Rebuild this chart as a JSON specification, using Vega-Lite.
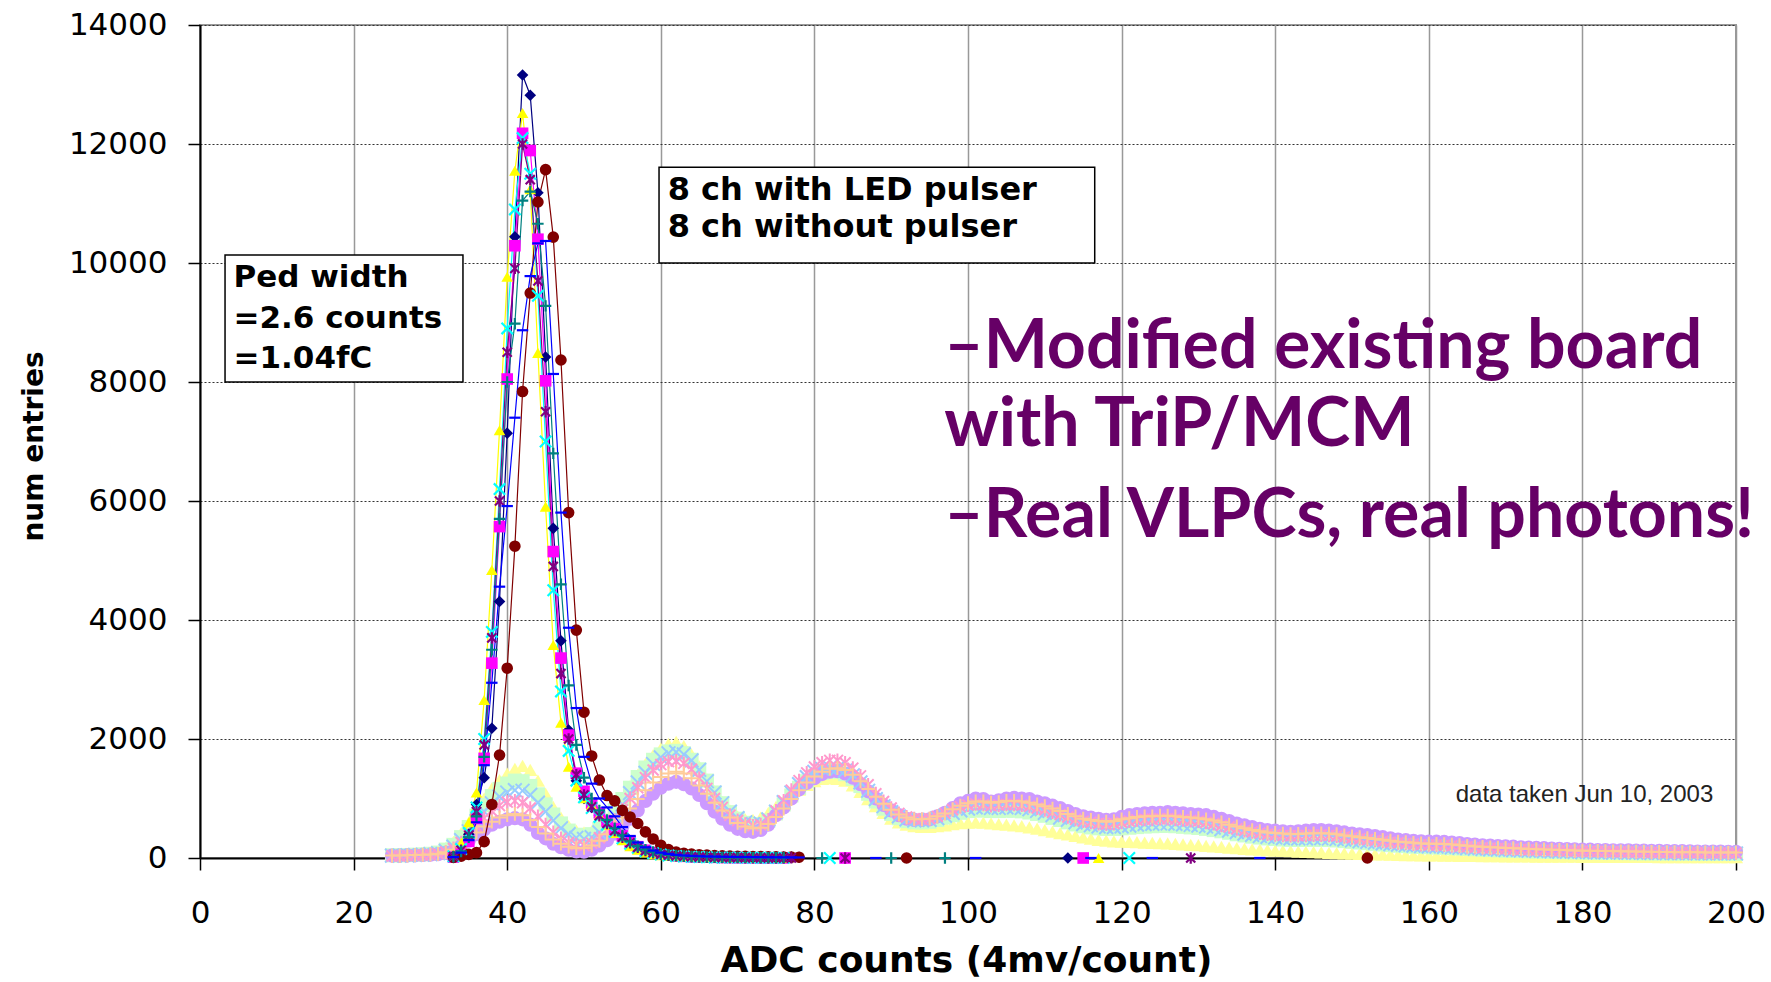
{
"$schema":"https://vega.github.io/schema/vega-lite/v6.json",
"width":1536,"height":833,
"autosize":{"type":"none"},
"padding":{"left":200,"top":25,"right":35,"bottom":124},
"background":"white",
"config":{"view":{"stroke":"#999999","strokeWidth":2}},
"datasets":{
"led":[
{"s":"L1","x":25,"y":50},{"s":"L1","x":26,"y":50},{"s":"L1","x":27,"y":55},{"s":"L1","x":28,"y":60},{"s":"L1","x":29,"y":70},{"s":"L1","x":30,"y":80},{"s":"L1","x":31,"y":110},{"s":"L1","x":32,"y":170},{"s":"L1","x":33,"y":270},{"s":"L1","x":34,"y":420},
{"s":"L1","x":35,"y":600},{"s":"L1","x":36,"y":800},{"s":"L1","x":37,"y":1000},{"s":"L1","x":38,"y":1170},{"s":"L1","x":39,"y":1310},{"s":"L1","x":40,"y":1420},{"s":"L1","x":41,"y":1500},{"s":"L1","x":42,"y":1550},{"s":"L1","x":43,"y":1480},{"s":"L1","x":44,"y":1300},
{"s":"L1","x":45,"y":1080},{"s":"L1","x":46,"y":860},{"s":"L1","x":47,"y":680},{"s":"L1","x":48,"y":540},{"s":"L1","x":49,"y":460},{"s":"L1","x":50,"y":430},{"s":"L1","x":51,"y":450},{"s":"L1","x":52,"y":530},{"s":"L1","x":53,"y":660},{"s":"L1","x":54,"y":820},
{"s":"L1","x":55,"y":1010},{"s":"L1","x":56,"y":1210},{"s":"L1","x":57,"y":1400},{"s":"L1","x":58,"y":1580},{"s":"L1","x":59,"y":1730},{"s":"L1","x":60,"y":1840},{"s":"L1","x":61,"y":1920},{"s":"L1","x":62,"y":1950},{"s":"L1","x":63,"y":1880},{"s":"L1","x":64,"y":1740},
{"s":"L1","x":65,"y":1540},{"s":"L1","x":66,"y":1320},{"s":"L1","x":67,"y":1120},{"s":"L1","x":68,"y":940},{"s":"L1","x":69,"y":800},{"s":"L1","x":70,"y":700},{"s":"L1","x":71,"y":650},{"s":"L1","x":72,"y":640},{"s":"L1","x":73,"y":680},{"s":"L1","x":74,"y":760},
{"s":"L1","x":75,"y":860},{"s":"L1","x":76,"y":960},{"s":"L1","x":77,"y":1060},{"s":"L1","x":78,"y":1150},{"s":"L1","x":79,"y":1230},{"s":"L1","x":80,"y":1290},{"s":"L1","x":81,"y":1330},{"s":"L1","x":82,"y":1340},{"s":"L1","x":83,"y":1330},{"s":"L1","x":84,"y":1300},
{"s":"L1","x":85,"y":1220},{"s":"L1","x":86,"y":1110},{"s":"L1","x":87,"y":990},{"s":"L1","x":88,"y":870},{"s":"L1","x":89,"y":760},{"s":"L1","x":90,"y":660},{"s":"L1","x":91,"y":600},{"s":"L1","x":92,"y":560},{"s":"L1","x":93,"y":535},{"s":"L1","x":94,"y":525},
{"s":"L1","x":95,"y":525},{"s":"L1","x":96,"y":535},{"s":"L1","x":97,"y":550},{"s":"L1","x":98,"y":570},{"s":"L1","x":99,"y":585},{"s":"L1","x":100,"y":595},{"s":"L1","x":101,"y":600},{"s":"L1","x":102,"y":595},{"s":"L1","x":103,"y":580},{"s":"L1","x":104,"y":570},
{"s":"L1","x":105,"y":560},{"s":"L1","x":106,"y":550},{"s":"L1","x":107,"y":535},{"s":"L1","x":108,"y":515},{"s":"L1","x":109,"y":495},{"s":"L1","x":110,"y":470},{"s":"L1","x":111,"y":445},{"s":"L1","x":112,"y":420},{"s":"L1","x":113,"y":395},{"s":"L1","x":114,"y":370},
{"s":"L1","x":115,"y":345},{"s":"L1","x":116,"y":325},{"s":"L1","x":117,"y":305},{"s":"L1","x":118,"y":290},{"s":"L1","x":119,"y":280},{"s":"L1","x":120,"y":275},{"s":"L1","x":121,"y":270},{"s":"L1","x":122,"y":265},{"s":"L1","x":123,"y":260},{"s":"L1","x":124,"y":255},
{"s":"L1","x":125,"y":250},{"s":"L1","x":126,"y":245},{"s":"L1","x":127,"y":238},{"s":"L1","x":128,"y":230},{"s":"L1","x":129,"y":222},{"s":"L1","x":130,"y":215},{"s":"L1","x":131,"y":205},{"s":"L1","x":132,"y":195},{"s":"L1","x":133,"y":185},{"s":"L1","x":134,"y":175},
{"s":"L1","x":135,"y":165},{"s":"L1","x":136,"y":155},{"s":"L1","x":137,"y":147},{"s":"L1","x":138,"y":140},{"s":"L1","x":139,"y":133},{"s":"L1","x":140,"y":126},{"s":"L1","x":141,"y":120},{"s":"L1","x":142,"y":114},{"s":"L1","x":143,"y":108},{"s":"L1","x":144,"y":103},
{"s":"L1","x":145,"y":98},{"s":"L1","x":146,"y":93},{"s":"L1","x":147,"y":88},{"s":"L1","x":148,"y":83},{"s":"L1","x":149,"y":78},{"s":"L1","x":150,"y":74},{"s":"L1","x":151,"y":70},{"s":"L1","x":152,"y":66},{"s":"L1","x":153,"y":62},{"s":"L1","x":154,"y":59},
{"s":"L1","x":155,"y":56},{"s":"L1","x":156,"y":53},{"s":"L1","x":157,"y":50},{"s":"L1","x":158,"y":48},{"s":"L1","x":159,"y":46},{"s":"L1","x":160,"y":44},{"s":"L1","x":161,"y":42},{"s":"L1","x":162,"y":40},{"s":"L1","x":163,"y":38},{"s":"L1","x":164,"y":36},
{"s":"L1","x":165,"y":35},{"s":"L1","x":166,"y":34},{"s":"L1","x":167,"y":32},{"s":"L1","x":168,"y":31},{"s":"L1","x":169,"y":30},{"s":"L1","x":170,"y":29},{"s":"L1","x":171,"y":28},{"s":"L1","x":172,"y":27},{"s":"L1","x":173,"y":26},{"s":"L1","x":174,"y":25},
{"s":"L1","x":175,"y":24},{"s":"L1","x":176,"y":23},{"s":"L1","x":177,"y":22},{"s":"L1","x":178,"y":22},{"s":"L1","x":179,"y":21},{"s":"L1","x":180,"y":20},{"s":"L1","x":181,"y":20},{"s":"L1","x":182,"y":19},{"s":"L1","x":183,"y":19},{"s":"L1","x":184,"y":18},
{"s":"L1","x":185,"y":18},{"s":"L1","x":186,"y":18},{"s":"L1","x":187,"y":17},{"s":"L1","x":188,"y":17},{"s":"L1","x":189,"y":17},{"s":"L1","x":190,"y":16},{"s":"L1","x":191,"y":16},{"s":"L1","x":192,"y":16},{"s":"L1","x":193,"y":15},{"s":"L1","x":194,"y":15},
{"s":"L1","x":195,"y":15},{"s":"L1","x":196,"y":15},{"s":"L1","x":197,"y":14},{"s":"L1","x":198,"y":14},{"s":"L1","x":199,"y":14},{"s":"L1","x":200,"y":14},
{"s":"L2","x":25,"y":45},{"s":"L2","x":26,"y":45},{"s":"L2","x":27,"y":50},{"s":"L2","x":28,"y":55},{"s":"L2","x":29,"y":60},{"s":"L2","x":30,"y":70},{"s":"L2","x":31,"y":90},{"s":"L2","x":32,"y":140},{"s":"L2","x":33,"y":220},{"s":"L2","x":34,"y":350},
{"s":"L2","x":35,"y":520},{"s":"L2","x":36,"y":710},{"s":"L2","x":37,"y":890},{"s":"L2","x":38,"y":1040},{"s":"L2","x":39,"y":1160},{"s":"L2","x":40,"y":1250},{"s":"L2","x":41,"y":1300},{"s":"L2","x":42,"y":1290},{"s":"L2","x":43,"y":1210},{"s":"L2","x":44,"y":1070},
{"s":"L2","x":45,"y":900},{"s":"L2","x":46,"y":730},{"s":"L2","x":47,"y":580},{"s":"L2","x":48,"y":460},{"s":"L2","x":49,"y":390},{"s":"L2","x":50,"y":370},{"s":"L2","x":51,"y":400},{"s":"L2","x":52,"y":490},{"s":"L2","x":53,"y":630},{"s":"L2","x":54,"y":800},
{"s":"L2","x":55,"y":990},{"s":"L2","x":56,"y":1180},{"s":"L2","x":57,"y":1360},{"s":"L2","x":58,"y":1520},{"s":"L2","x":59,"y":1650},{"s":"L2","x":60,"y":1740},{"s":"L2","x":61,"y":1790},{"s":"L2","x":62,"y":1800},{"s":"L2","x":63,"y":1760},{"s":"L2","x":64,"y":1650},
{"s":"L2","x":65,"y":1490},{"s":"L2","x":66,"y":1300},{"s":"L2","x":67,"y":1100},{"s":"L2","x":68,"y":920},{"s":"L2","x":69,"y":770},{"s":"L2","x":70,"y":660},{"s":"L2","x":71,"y":590},{"s":"L2","x":72,"y":560},{"s":"L2","x":73,"y":570},{"s":"L2","x":74,"y":630},
{"s":"L2","x":75,"y":750},{"s":"L2","x":76,"y":900},{"s":"L2","x":77,"y":1050},{"s":"L2","x":78,"y":1180},{"s":"L2","x":79,"y":1290},{"s":"L2","x":80,"y":1380},{"s":"L2","x":81,"y":1430},{"s":"L2","x":82,"y":1460},{"s":"L2","x":83,"y":1450},{"s":"L2","x":84,"y":1410},
{"s":"L2","x":85,"y":1330},{"s":"L2","x":86,"y":1210},{"s":"L2","x":87,"y":1080},{"s":"L2","x":88,"y":950},{"s":"L2","x":89,"y":830},{"s":"L2","x":90,"y":740},{"s":"L2","x":91,"y":670},{"s":"L2","x":92,"y":620},{"s":"L2","x":93,"y":600},{"s":"L2","x":94,"y":600},
{"s":"L2","x":95,"y":610},{"s":"L2","x":96,"y":640},{"s":"L2","x":97,"y":680},{"s":"L2","x":98,"y":720},{"s":"L2","x":99,"y":760},{"s":"L2","x":100,"y":790},{"s":"L2","x":101,"y":800},{"s":"L2","x":102,"y":800},{"s":"L2","x":103,"y":790},{"s":"L2","x":104,"y":790},
{"s":"L2","x":105,"y":795},{"s":"L2","x":106,"y":795},{"s":"L2","x":107,"y":785},{"s":"L2","x":108,"y":765},{"s":"L2","x":109,"y":740},{"s":"L2","x":110,"y":710},{"s":"L2","x":111,"y":675},{"s":"L2","x":112,"y":640},{"s":"L2","x":113,"y":600},{"s":"L2","x":114,"y":565},
{"s":"L2","x":115,"y":535},{"s":"L2","x":116,"y":515},{"s":"L2","x":117,"y":500},{"s":"L2","x":118,"y":490},{"s":"L2","x":119,"y":490},{"s":"L2","x":120,"y":500},{"s":"L2","x":121,"y":510},{"s":"L2","x":122,"y":520},{"s":"L2","x":123,"y":530},{"s":"L2","x":124,"y":535},
{"s":"L2","x":125,"y":540},{"s":"L2","x":126,"y":540},{"s":"L2","x":127,"y":535},{"s":"L2","x":128,"y":525},{"s":"L2","x":129,"y":515},{"s":"L2","x":130,"y":505},{"s":"L2","x":131,"y":490},{"s":"L2","x":132,"y":470},{"s":"L2","x":133,"y":450},{"s":"L2","x":134,"y":425},
{"s":"L2","x":135,"y":400},{"s":"L2","x":136,"y":380},{"s":"L2","x":137,"y":360},{"s":"L2","x":138,"y":345},{"s":"L2","x":139,"y":330},{"s":"L2","x":140,"y":320},{"s":"L2","x":141,"y":312},{"s":"L2","x":142,"y":306},{"s":"L2","x":143,"y":304},{"s":"L2","x":144,"y":305},
{"s":"L2","x":145,"y":307},{"s":"L2","x":146,"y":307},{"s":"L2","x":147,"y":303},{"s":"L2","x":148,"y":296},{"s":"L2","x":149,"y":285},{"s":"L2","x":150,"y":273},{"s":"L2","x":151,"y":261},{"s":"L2","x":152,"y":250},{"s":"L2","x":153,"y":239},{"s":"L2","x":154,"y":228},
{"s":"L2","x":155,"y":217},{"s":"L2","x":156,"y":208},{"s":"L2","x":157,"y":200},{"s":"L2","x":158,"y":192},{"s":"L2","x":159,"y":186},{"s":"L2","x":160,"y":181},{"s":"L2","x":161,"y":178},{"s":"L2","x":162,"y":174},{"s":"L2","x":163,"y":167},{"s":"L2","x":164,"y":160},
{"s":"L2","x":165,"y":153},{"s":"L2","x":166,"y":147},{"s":"L2","x":167,"y":141},{"s":"L2","x":168,"y":135},{"s":"L2","x":169,"y":130},{"s":"L2","x":170,"y":125},{"s":"L2","x":171,"y":121},{"s":"L2","x":172,"y":117},{"s":"L2","x":173,"y":113},{"s":"L2","x":174,"y":110},
{"s":"L2","x":175,"y":106},{"s":"L2","x":176,"y":103},{"s":"L2","x":177,"y":100},{"s":"L2","x":178,"y":98},{"s":"L2","x":179,"y":95},{"s":"L2","x":180,"y":93},{"s":"L2","x":181,"y":91},{"s":"L2","x":182,"y":89},{"s":"L2","x":183,"y":87},{"s":"L2","x":184,"y":86},
{"s":"L2","x":185,"y":84},{"s":"L2","x":186,"y":83},{"s":"L2","x":187,"y":81},{"s":"L2","x":188,"y":80},{"s":"L2","x":189,"y":79},{"s":"L2","x":190,"y":78},{"s":"L2","x":191,"y":77},{"s":"L2","x":192,"y":76},{"s":"L2","x":193,"y":75},{"s":"L2","x":194,"y":74},
{"s":"L2","x":195,"y":73},{"s":"L2","x":196,"y":73},{"s":"L2","x":197,"y":72},{"s":"L2","x":198,"y":72},{"s":"L2","x":199,"y":71},{"s":"L2","x":200,"y":71},
{"s":"L6","x":25,"y":40},{"s":"L6","x":26,"y":40},{"s":"L6","x":27,"y":45},{"s":"L6","x":28,"y":45},{"s":"L6","x":29,"y":50},{"s":"L6","x":30,"y":55},{"s":"L6","x":31,"y":65},{"s":"L6","x":32,"y":85},{"s":"L6","x":33,"y":120},{"s":"L6","x":34,"y":200},
{"s":"L6","x":35,"y":290},{"s":"L6","x":36,"y":400},{"s":"L6","x":37,"y":480},{"s":"L6","x":38,"y":560},{"s":"L6","x":39,"y":610},{"s":"L6","x":40,"y":650},{"s":"L6","x":41,"y":670},{"s":"L6","x":42,"y":650},{"s":"L6","x":43,"y":560},{"s":"L6","x":44,"y":420},
{"s":"L6","x":45,"y":330},{"s":"L6","x":46,"y":240},{"s":"L6","x":47,"y":180},{"s":"L6","x":48,"y":140},{"s":"L6","x":49,"y":110},{"s":"L6","x":50,"y":105},{"s":"L6","x":51,"y":140},{"s":"L6","x":52,"y":210},{"s":"L6","x":53,"y":300},{"s":"L6","x":54,"y":410},
{"s":"L6","x":55,"y":530},{"s":"L6","x":56,"y":660},{"s":"L6","x":57,"y":800},{"s":"L6","x":58,"y":960},{"s":"L6","x":59,"y":1080},{"s":"L6","x":60,"y":1180},{"s":"L6","x":61,"y":1250},{"s":"L6","x":62,"y":1280},{"s":"L6","x":63,"y":1240},{"s":"L6","x":64,"y":1170},
{"s":"L6","x":65,"y":1060},{"s":"L6","x":66,"y":920},{"s":"L6","x":67,"y":780},{"s":"L6","x":68,"y":660},{"s":"L6","x":69,"y":560},{"s":"L6","x":70,"y":490},{"s":"L6","x":71,"y":450},{"s":"L6","x":72,"y":440},{"s":"L6","x":73,"y":470},{"s":"L6","x":74,"y":560},
{"s":"L6","x":75,"y":720},{"s":"L6","x":76,"y":850},{"s":"L6","x":77,"y":1000},{"s":"L6","x":78,"y":1150},{"s":"L6","x":79,"y":1260},{"s":"L6","x":80,"y":1340},{"s":"L6","x":81,"y":1410},{"s":"L6","x":82,"y":1450},{"s":"L6","x":83,"y":1460},{"s":"L6","x":84,"y":1420},
{"s":"L6","x":85,"y":1350},{"s":"L6","x":86,"y":1240},{"s":"L6","x":87,"y":1120},{"s":"L6","x":88,"y":1000},{"s":"L6","x":89,"y":890},{"s":"L6","x":90,"y":800},{"s":"L6","x":91,"y":720},{"s":"L6","x":92,"y":660},{"s":"L6","x":93,"y":640},{"s":"L6","x":94,"y":640},
{"s":"L6","x":95,"y":650},{"s":"L6","x":96,"y":700},{"s":"L6","x":97,"y":760},{"s":"L6","x":98,"y":840},{"s":"L6","x":99,"y":920},{"s":"L6","x":100,"y":960},{"s":"L6","x":101,"y":1000},{"s":"L6","x":102,"y":990},{"s":"L6","x":103,"y":950},{"s":"L6","x":104,"y":970},
{"s":"L6","x":105,"y":1000},{"s":"L6","x":106,"y":1010},{"s":"L6","x":107,"y":1000},{"s":"L6","x":108,"y":990},{"s":"L6","x":109,"y":950},{"s":"L6","x":110,"y":920},{"s":"L6","x":111,"y":880},{"s":"L6","x":112,"y":840},{"s":"L6","x":113,"y":790},{"s":"L6","x":114,"y":740},
{"s":"L6","x":115,"y":700},{"s":"L6","x":116,"y":680},{"s":"L6","x":117,"y":660},{"s":"L6","x":118,"y":640},{"s":"L6","x":119,"y":650},{"s":"L6","x":120,"y":690},{"s":"L6","x":121,"y":720},{"s":"L6","x":122,"y":740},{"s":"L6","x":123,"y":750},{"s":"L6","x":124,"y":760},
{"s":"L6","x":125,"y":760},{"s":"L6","x":126,"y":770},{"s":"L6","x":127,"y":760},{"s":"L6","x":128,"y":750},{"s":"L6","x":129,"y":740},{"s":"L6","x":130,"y":730},{"s":"L6","x":131,"y":720},{"s":"L6","x":132,"y":690},{"s":"L6","x":133,"y":660},{"s":"L6","x":134,"y":620},
{"s":"L6","x":135,"y":580},{"s":"L6","x":136,"y":550},{"s":"L6","x":137,"y":520},{"s":"L6","x":138,"y":490},{"s":"L6","x":139,"y":470},{"s":"L6","x":140,"y":460},{"s":"L6","x":141,"y":450},{"s":"L6","x":142,"y":440},{"s":"L6","x":143,"y":450},{"s":"L6","x":144,"y":460},
{"s":"L6","x":145,"y":470},{"s":"L6","x":146,"y":470},{"s":"L6","x":147,"y":460},{"s":"L6","x":148,"y":450},{"s":"L6","x":149,"y":430},{"s":"L6","x":150,"y":410},{"s":"L6","x":151,"y":400},{"s":"L6","x":152,"y":385},{"s":"L6","x":153,"y":370},{"s":"L6","x":154,"y":350},
{"s":"L6","x":155,"y":330},{"s":"L6","x":156,"y":310},{"s":"L6","x":157,"y":300},{"s":"L6","x":158,"y":290},{"s":"L6","x":159,"y":280},{"s":"L6","x":160,"y":275},{"s":"L6","x":161,"y":275},{"s":"L6","x":162,"y":270},{"s":"L6","x":163,"y":260},{"s":"L6","x":164,"y":250},
{"s":"L6","x":165,"y":235},{"s":"L6","x":166,"y":225},{"s":"L6","x":167,"y":215},{"s":"L6","x":168,"y":210},{"s":"L6","x":169,"y":200},{"s":"L6","x":170,"y":195},{"s":"L6","x":171,"y":190},{"s":"L6","x":172,"y":180},{"s":"L6","x":173,"y":175},{"s":"L6","x":174,"y":170},
{"s":"L6","x":175,"y":165},{"s":"L6","x":176,"y":160},{"s":"L6","x":177,"y":155},{"s":"L6","x":178,"y":150},{"s":"L6","x":179,"y":145},{"s":"L6","x":180,"y":140},{"s":"L6","x":181,"y":140},{"s":"L6","x":182,"y":135},{"s":"L6","x":183,"y":135},{"s":"L6","x":184,"y":130},
{"s":"L6","x":185,"y":130},{"s":"L6","x":186,"y":130},{"s":"L6","x":187,"y":125},{"s":"L6","x":188,"y":125},{"s":"L6","x":189,"y":120},{"s":"L6","x":190,"y":120},{"s":"L6","x":191,"y":118},{"s":"L6","x":192,"y":115},{"s":"L6","x":193,"y":115},{"s":"L6","x":194,"y":112},
{"s":"L6","x":195,"y":110},{"s":"L6","x":196,"y":110},{"s":"L6","x":197,"y":108},{"s":"L6","x":198,"y":108},{"s":"L6","x":199,"y":105},{"s":"L6","x":200,"y":105},
{"s":"L3","x":25,"y":40},{"s":"L3","x":26,"y":40},{"s":"L3","x":27,"y":45},{"s":"L3","x":28,"y":50},{"s":"L3","x":29,"y":55},{"s":"L3","x":30,"y":65},{"s":"L3","x":31,"y":80},{"s":"L3","x":32,"y":120},{"s":"L3","x":33,"y":190},{"s":"L3","x":34,"y":300},
{"s":"L3","x":35,"y":450},{"s":"L3","x":36,"y":620},{"s":"L3","x":37,"y":780},{"s":"L3","x":38,"y":920},{"s":"L3","x":39,"y":1030},{"s":"L3","x":40,"y":1100},{"s":"L3","x":41,"y":1140},{"s":"L3","x":42,"y":1130},{"s":"L3","x":43,"y":1060},{"s":"L3","x":44,"y":930},
{"s":"L3","x":45,"y":780},{"s":"L3","x":46,"y":630},{"s":"L3","x":47,"y":500},{"s":"L3","x":48,"y":400},{"s":"L3","x":49,"y":340},{"s":"L3","x":50,"y":320},{"s":"L3","x":51,"y":350},{"s":"L3","x":52,"y":430},{"s":"L3","x":53,"y":560},{"s":"L3","x":54,"y":720},
{"s":"L3","x":55,"y":900},{"s":"L3","x":56,"y":1090},{"s":"L3","x":57,"y":1270},{"s":"L3","x":58,"y":1430},{"s":"L3","x":59,"y":1580},{"s":"L3","x":60,"y":1690},{"s":"L3","x":61,"y":1760},{"s":"L3","x":62,"y":1780},{"s":"L3","x":63,"y":1740},{"s":"L3","x":64,"y":1640},
{"s":"L3","x":65,"y":1480},{"s":"L3","x":66,"y":1290},{"s":"L3","x":67,"y":1100},{"s":"L3","x":68,"y":920},{"s":"L3","x":69,"y":780},{"s":"L3","x":70,"y":670},{"s":"L3","x":71,"y":600},{"s":"L3","x":72,"y":570},{"s":"L3","x":73,"y":580},{"s":"L3","x":74,"y":650},
{"s":"L3","x":75,"y":780},{"s":"L3","x":76,"y":940},{"s":"L3","x":77,"y":1100},{"s":"L3","x":78,"y":1240},{"s":"L3","x":79,"y":1360},{"s":"L3","x":80,"y":1450},{"s":"L3","x":81,"y":1500},{"s":"L3","x":82,"y":1520},{"s":"L3","x":83,"y":1510},{"s":"L3","x":84,"y":1470},
{"s":"L3","x":85,"y":1390},{"s":"L3","x":86,"y":1270},{"s":"L3","x":87,"y":1130},{"s":"L3","x":88,"y":990},{"s":"L3","x":89,"y":870},{"s":"L3","x":90,"y":770},{"s":"L3","x":91,"y":700},{"s":"L3","x":92,"y":650},{"s":"L3","x":93,"y":630},{"s":"L3","x":94,"y":630},
{"s":"L3","x":95,"y":640},{"s":"L3","x":96,"y":670},{"s":"L3","x":97,"y":710},{"s":"L3","x":98,"y":760},{"s":"L3","x":99,"y":800},{"s":"L3","x":100,"y":830},{"s":"L3","x":101,"y":850},{"s":"L3","x":102,"y":850},{"s":"L3","x":103,"y":840},{"s":"L3","x":104,"y":840},
{"s":"L3","x":105,"y":850},{"s":"L3","x":106,"y":850},{"s":"L3","x":107,"y":840},{"s":"L3","x":108,"y":820},{"s":"L3","x":109,"y":790},{"s":"L3","x":110,"y":760},{"s":"L3","x":111,"y":720},{"s":"L3","x":112,"y":680},{"s":"L3","x":113,"y":640},{"s":"L3","x":114,"y":600},
{"s":"L3","x":115,"y":570},{"s":"L3","x":116,"y":550},{"s":"L3","x":117,"y":530},{"s":"L3","x":118,"y":520},{"s":"L3","x":119,"y":520},{"s":"L3","x":120,"y":530},{"s":"L3","x":121,"y":545},{"s":"L3","x":122,"y":560},{"s":"L3","x":123,"y":570},{"s":"L3","x":124,"y":575},
{"s":"L3","x":125,"y":580},{"s":"L3","x":126,"y":580},{"s":"L3","x":127,"y":575},{"s":"L3","x":128,"y":565},{"s":"L3","x":129,"y":555},{"s":"L3","x":130,"y":545},{"s":"L3","x":131,"y":530},{"s":"L3","x":132,"y":510},{"s":"L3","x":133,"y":485},{"s":"L3","x":134,"y":460},
{"s":"L3","x":135,"y":435},{"s":"L3","x":136,"y":410},{"s":"L3","x":137,"y":390},{"s":"L3","x":138,"y":370},{"s":"L3","x":139,"y":355},{"s":"L3","x":140,"y":345},{"s":"L3","x":141,"y":335},{"s":"L3","x":142,"y":330},{"s":"L3","x":143,"y":328},{"s":"L3","x":144,"y":330},
{"s":"L3","x":145,"y":332},{"s":"L3","x":146,"y":332},{"s":"L3","x":147,"y":328},{"s":"L3","x":148,"y":320},{"s":"L3","x":149,"y":308},{"s":"L3","x":150,"y":295},{"s":"L3","x":151,"y":282},{"s":"L3","x":152,"y":270},{"s":"L3","x":153,"y":258},{"s":"L3","x":154,"y":246},
{"s":"L3","x":155,"y":234},{"s":"L3","x":156,"y":224},{"s":"L3","x":157,"y":215},{"s":"L3","x":158,"y":207},{"s":"L3","x":159,"y":200},{"s":"L3","x":160,"y":195},{"s":"L3","x":161,"y":192},{"s":"L3","x":162,"y":188},{"s":"L3","x":163,"y":180},{"s":"L3","x":164,"y":172},
{"s":"L3","x":165,"y":165},{"s":"L3","x":166,"y":158},{"s":"L3","x":167,"y":152},{"s":"L3","x":168,"y":146},{"s":"L3","x":169,"y":140},{"s":"L3","x":170,"y":135},{"s":"L3","x":171,"y":130},{"s":"L3","x":172,"y":126},{"s":"L3","x":173,"y":122},{"s":"L3","x":174,"y":118},
{"s":"L3","x":175,"y":114},{"s":"L3","x":176,"y":111},{"s":"L3","x":177,"y":108},{"s":"L3","x":178,"y":105},{"s":"L3","x":179,"y":102},{"s":"L3","x":180,"y":100},{"s":"L3","x":181,"y":98},{"s":"L3","x":182,"y":96},{"s":"L3","x":183,"y":94},{"s":"L3","x":184,"y":92},
{"s":"L3","x":185,"y":91},{"s":"L3","x":186,"y":89},{"s":"L3","x":187,"y":88},{"s":"L3","x":188,"y":86},{"s":"L3","x":189,"y":85},{"s":"L3","x":190,"y":84},{"s":"L3","x":191,"y":83},{"s":"L3","x":192,"y":82},{"s":"L3","x":193,"y":81},{"s":"L3","x":194,"y":80},
{"s":"L3","x":195,"y":79},{"s":"L3","x":196,"y":78},{"s":"L3","x":197,"y":78},{"s":"L3","x":198,"y":77},{"s":"L3","x":199,"y":77},{"s":"L3","x":200,"y":76},
{"s":"L4","x":25,"y":35},{"s":"L4","x":26,"y":35},{"s":"L4","x":27,"y":40},{"s":"L4","x":28,"y":45},{"s":"L4","x":29,"y":50},{"s":"L4","x":30,"y":55},{"s":"L4","x":31,"y":70},{"s":"L4","x":32,"y":100},{"s":"L4","x":33,"y":160},{"s":"L4","x":34,"y":260},
{"s":"L4","x":35,"y":390},{"s":"L4","x":36,"y":530},{"s":"L4","x":37,"y":670},{"s":"L4","x":38,"y":790},{"s":"L4","x":39,"y":880},{"s":"L4","x":40,"y":940},{"s":"L4","x":41,"y":960},{"s":"L4","x":42,"y":930},{"s":"L4","x":43,"y":840},{"s":"L4","x":44,"y":700},
{"s":"L4","x":45,"y":560},{"s":"L4","x":46,"y":430},{"s":"L4","x":47,"y":330},{"s":"L4","x":48,"y":260},{"s":"L4","x":49,"y":220},{"s":"L4","x":50,"y":210},{"s":"L4","x":51,"y":250},{"s":"L4","x":52,"y":340},{"s":"L4","x":53,"y":470},{"s":"L4","x":54,"y":630},
{"s":"L4","x":55,"y":810},{"s":"L4","x":56,"y":1000},{"s":"L4","x":57,"y":1180},{"s":"L4","x":58,"y":1350},{"s":"L4","x":59,"y":1480},{"s":"L4","x":60,"y":1570},{"s":"L4","x":61,"y":1620},{"s":"L4","x":62,"y":1630},{"s":"L4","x":63,"y":1590},{"s":"L4","x":64,"y":1490},
{"s":"L4","x":65,"y":1340},{"s":"L4","x":66,"y":1170},{"s":"L4","x":67,"y":1000},{"s":"L4","x":68,"y":850},{"s":"L4","x":69,"y":720},{"s":"L4","x":70,"y":630},{"s":"L4","x":71,"y":570},{"s":"L4","x":72,"y":540},{"s":"L4","x":73,"y":560},{"s":"L4","x":74,"y":640},
{"s":"L4","x":75,"y":790},{"s":"L4","x":76,"y":960},{"s":"L4","x":77,"y":1140},{"s":"L4","x":78,"y":1300},{"s":"L4","x":79,"y":1430},{"s":"L4","x":80,"y":1530},{"s":"L4","x":81,"y":1600},{"s":"L4","x":82,"y":1640},{"s":"L4","x":83,"y":1640},{"s":"L4","x":84,"y":1600},
{"s":"L4","x":85,"y":1510},{"s":"L4","x":86,"y":1380},{"s":"L4","x":87,"y":1230},{"s":"L4","x":88,"y":1080},{"s":"L4","x":89,"y":950},{"s":"L4","x":90,"y":840},{"s":"L4","x":91,"y":750},{"s":"L4","x":92,"y":690},{"s":"L4","x":93,"y":660},{"s":"L4","x":94,"y":650},
{"s":"L4","x":95,"y":660},{"s":"L4","x":96,"y":700},{"s":"L4","x":97,"y":750},{"s":"L4","x":98,"y":810},{"s":"L4","x":99,"y":860},{"s":"L4","x":100,"y":890},{"s":"L4","x":101,"y":910},{"s":"L4","x":102,"y":900},{"s":"L4","x":103,"y":880},{"s":"L4","x":104,"y":890},
{"s":"L4","x":105,"y":900},{"s":"L4","x":106,"y":900},{"s":"L4","x":107,"y":890},{"s":"L4","x":108,"y":870},{"s":"L4","x":109,"y":840},{"s":"L4","x":110,"y":810},{"s":"L4","x":111,"y":770},{"s":"L4","x":112,"y":730},{"s":"L4","x":113,"y":690},{"s":"L4","x":114,"y":650},
{"s":"L4","x":115,"y":620},{"s":"L4","x":116,"y":600},{"s":"L4","x":117,"y":580},{"s":"L4","x":118,"y":570},{"s":"L4","x":119,"y":580},{"s":"L4","x":120,"y":600},{"s":"L4","x":121,"y":620},{"s":"L4","x":122,"y":640},{"s":"L4","x":123,"y":650},{"s":"L4","x":124,"y":650},
{"s":"L4","x":125,"y":660},{"s":"L4","x":126,"y":660},{"s":"L4","x":127,"y":650},{"s":"L4","x":128,"y":640},{"s":"L4","x":129,"y":630},{"s":"L4","x":130,"y":620},{"s":"L4","x":131,"y":600},{"s":"L4","x":132,"y":580},{"s":"L4","x":133,"y":550},{"s":"L4","x":134,"y":520},
{"s":"L4","x":135,"y":490},{"s":"L4","x":136,"y":460},{"s":"L4","x":137,"y":440},{"s":"L4","x":138,"y":420},{"s":"L4","x":139,"y":400},{"s":"L4","x":140,"y":390},{"s":"L4","x":141,"y":380},{"s":"L4","x":142,"y":375},{"s":"L4","x":143,"y":375},{"s":"L4","x":144,"y":380},
{"s":"L4","x":145,"y":385},{"s":"L4","x":146,"y":385},{"s":"L4","x":147,"y":380},{"s":"L4","x":148,"y":370},{"s":"L4","x":149,"y":355},{"s":"L4","x":150,"y":340},{"s":"L4","x":151,"y":325},{"s":"L4","x":152,"y":310},{"s":"L4","x":153,"y":295},{"s":"L4","x":154,"y":280},
{"s":"L4","x":155,"y":265},{"s":"L4","x":156,"y":255},{"s":"L4","x":157,"y":245},{"s":"L4","x":158,"y":235},{"s":"L4","x":159,"y":225},{"s":"L4","x":160,"y":220},{"s":"L4","x":161,"y":218},{"s":"L4","x":162,"y":215},{"s":"L4","x":163,"y":205},{"s":"L4","x":164,"y":195},
{"s":"L4","x":165,"y":188},{"s":"L4","x":166,"y":180},{"s":"L4","x":167,"y":172},{"s":"L4","x":168,"y":166},{"s":"L4","x":169,"y":160},{"s":"L4","x":170,"y":155},{"s":"L4","x":171,"y":150},{"s":"L4","x":172,"y":145},{"s":"L4","x":173,"y":140},{"s":"L4","x":174,"y":136},
{"s":"L4","x":175,"y":132},{"s":"L4","x":176,"y":128},{"s":"L4","x":177,"y":124},{"s":"L4","x":178,"y":120},{"s":"L4","x":179,"y":117},{"s":"L4","x":180,"y":114},{"s":"L4","x":181,"y":112},{"s":"L4","x":182,"y":110},{"s":"L4","x":183,"y":108},{"s":"L4","x":184,"y":106},
{"s":"L4","x":185,"y":104},{"s":"L4","x":186,"y":102},{"s":"L4","x":187,"y":100},{"s":"L4","x":188,"y":98},{"s":"L4","x":189,"y":96},{"s":"L4","x":190,"y":95},{"s":"L4","x":191,"y":94},{"s":"L4","x":192,"y":92},{"s":"L4","x":193,"y":91},{"s":"L4","x":194,"y":90},
{"s":"L4","x":195,"y":89},{"s":"L4","x":196,"y":88},{"s":"L4","x":197,"y":87},{"s":"L4","x":198,"y":86},{"s":"L4","x":199,"y":86},{"s":"L4","x":200,"y":85},
{"s":"L5","x":25,"y":40},{"s":"L5","x":26,"y":40},{"s":"L5","x":27,"y":45},{"s":"L5","x":28,"y":50},{"s":"L5","x":29,"y":55},{"s":"L5","x":30,"y":60},{"s":"L5","x":31,"y":70},{"s":"L5","x":32,"y":95},{"s":"L5","x":33,"y":140},{"s":"L5","x":34,"y":220},
{"s":"L5","x":35,"y":320},{"s":"L5","x":36,"y":430},{"s":"L5","x":37,"y":530},{"s":"L5","x":38,"y":610},{"s":"L5","x":39,"y":680},{"s":"L5","x":40,"y":720},{"s":"L5","x":41,"y":740},{"s":"L5","x":42,"y":720},{"s":"L5","x":43,"y":640},{"s":"L5","x":44,"y":520},
{"s":"L5","x":45,"y":410},{"s":"L5","x":46,"y":310},{"s":"L5","x":47,"y":240},{"s":"L5","x":48,"y":190},{"s":"L5","x":49,"y":165},{"s":"L5","x":50,"y":170},{"s":"L5","x":51,"y":210},{"s":"L5","x":52,"y":290},{"s":"L5","x":53,"y":400},{"s":"L5","x":54,"y":530},
{"s":"L5","x":55,"y":680},{"s":"L5","x":56,"y":830},{"s":"L5","x":57,"y":990},{"s":"L5","x":58,"y":1140},{"s":"L5","x":59,"y":1270},{"s":"L5","x":60,"y":1360},{"s":"L5","x":61,"y":1420},{"s":"L5","x":62,"y":1450},{"s":"L5","x":63,"y":1420},{"s":"L5","x":64,"y":1340},
{"s":"L5","x":65,"y":1220},{"s":"L5","x":66,"y":1080},{"s":"L5","x":67,"y":930},{"s":"L5","x":68,"y":800},{"s":"L5","x":69,"y":680},{"s":"L5","x":70,"y":590},{"s":"L5","x":71,"y":530},{"s":"L5","x":72,"y":500},{"s":"L5","x":73,"y":510},{"s":"L5","x":74,"y":570},
{"s":"L5","x":75,"y":690},{"s":"L5","x":76,"y":830},{"s":"L5","x":77,"y":990},{"s":"L5","x":78,"y":1140},{"s":"L5","x":79,"y":1270},{"s":"L5","x":80,"y":1370},{"s":"L5","x":81,"y":1450},{"s":"L5","x":82,"y":1500},{"s":"L5","x":83,"y":1510},{"s":"L5","x":84,"y":1480},
{"s":"L5","x":85,"y":1400},{"s":"L5","x":86,"y":1290},{"s":"L5","x":87,"y":1160},{"s":"L5","x":88,"y":1030},{"s":"L5","x":89,"y":910},{"s":"L5","x":90,"y":810},{"s":"L5","x":91,"y":730},{"s":"L5","x":92,"y":680},{"s":"L5","x":93,"y":650},{"s":"L5","x":94,"y":650},
{"s":"L5","x":95,"y":660},{"s":"L5","x":96,"y":700},{"s":"L5","x":97,"y":750},{"s":"L5","x":98,"y":820},{"s":"L5","x":99,"y":880},{"s":"L5","x":100,"y":920},{"s":"L5","x":101,"y":950},{"s":"L5","x":102,"y":950},{"s":"L5","x":103,"y":930},{"s":"L5","x":104,"y":940},
{"s":"L5","x":105,"y":960},{"s":"L5","x":106,"y":960},{"s":"L5","x":107,"y":950},{"s":"L5","x":108,"y":930},{"s":"L5","x":109,"y":900},{"s":"L5","x":110,"y":870},{"s":"L5","x":111,"y":830},{"s":"L5","x":112,"y":790},{"s":"L5","x":113,"y":740},{"s":"L5","x":114,"y":700},
{"s":"L5","x":115,"y":660},{"s":"L5","x":116,"y":640},{"s":"L5","x":117,"y":620},{"s":"L5","x":118,"y":610},{"s":"L5","x":119,"y":620},{"s":"L5","x":120,"y":650},{"s":"L5","x":121,"y":670},{"s":"L5","x":122,"y":690},{"s":"L5","x":123,"y":700},{"s":"L5","x":124,"y":700},
{"s":"L5","x":125,"y":710},{"s":"L5","x":126,"y":710},{"s":"L5","x":127,"y":700},{"s":"L5","x":128,"y":690},{"s":"L5","x":129,"y":680},{"s":"L5","x":130,"y":670},{"s":"L5","x":131,"y":650},{"s":"L5","x":132,"y":630},{"s":"L5","x":133,"y":600},{"s":"L5","x":134,"y":560},
{"s":"L5","x":135,"y":530},{"s":"L5","x":136,"y":500},{"s":"L5","x":137,"y":470},{"s":"L5","x":138,"y":450},{"s":"L5","x":139,"y":430},{"s":"L5","x":140,"y":420},{"s":"L5","x":141,"y":410},{"s":"L5","x":142,"y":400},{"s":"L5","x":143,"y":405},{"s":"L5","x":144,"y":410},
{"s":"L5","x":145,"y":415},{"s":"L5","x":146,"y":415},{"s":"L5","x":147,"y":410},{"s":"L5","x":148,"y":400},{"s":"L5","x":149,"y":380},{"s":"L5","x":150,"y":365},{"s":"L5","x":151,"y":350},{"s":"L5","x":152,"y":335},{"s":"L5","x":153,"y":320},{"s":"L5","x":154,"y":305},
{"s":"L5","x":155,"y":290},{"s":"L5","x":156,"y":275},{"s":"L5","x":157,"y":265},{"s":"L5","x":158,"y":255},{"s":"L5","x":159,"y":245},{"s":"L5","x":160,"y":240},{"s":"L5","x":161,"y":238},{"s":"L5","x":162,"y":235},{"s":"L5","x":163,"y":225},{"s":"L5","x":164,"y":215},
{"s":"L5","x":165,"y":205},{"s":"L5","x":166,"y":195},{"s":"L5","x":167,"y":188},{"s":"L5","x":168,"y":180},{"s":"L5","x":169,"y":175},{"s":"L5","x":170,"y":170},{"s":"L5","x":171,"y":165},{"s":"L5","x":172,"y":158},{"s":"L5","x":173,"y":152},{"s":"L5","x":174,"y":148},
{"s":"L5","x":175,"y":143},{"s":"L5","x":176,"y":140},{"s":"L5","x":177,"y":135},{"s":"L5","x":178,"y":130},{"s":"L5","x":179,"y":126},{"s":"L5","x":180,"y":122},{"s":"L5","x":181,"y":120},{"s":"L5","x":182,"y":118},{"s":"L5","x":183,"y":116},{"s":"L5","x":184,"y":113},
{"s":"L5","x":185,"y":112},{"s":"L5","x":186,"y":110},{"s":"L5","x":187,"y":108},{"s":"L5","x":188,"y":106},{"s":"L5","x":189,"y":104},{"s":"L5","x":190,"y":102},{"s":"L5","x":191,"y":100},{"s":"L5","x":192,"y":98},{"s":"L5","x":193,"y":97},{"s":"L5","x":194,"y":96},
{"s":"L5","x":195,"y":95},{"s":"L5","x":196,"y":94},{"s":"L5","x":197,"y":93},{"s":"L5","x":198,"y":92},{"s":"L5","x":199,"y":92},{"s":"L5","x":200,"y":91}
],
"ped":[
{"s":"n","x":33,"y":20},{"s":"n","x":34,"y":120},{"s":"n","x":35,"y":400},{"s":"n","x":36,"y":900},{"s":"n","x":37,"y":1350},{"s":"n","x":38,"y":2180},{"s":"n","x":39,"y":4310},{"s":"n","x":40,"y":7140},{"s":"n","x":41,"y":10440},{"s":"n","x":42,"y":13160},{"s":"n","x":43,"y":12820},{"s":"n","x":44,"y":11180},{"s":"n","x":45,"y":8420},{"s":"n","x":46,"y":5540},{"s":"n","x":47,"y":3650},{"s":"n","x":48,"y":2150},{"s":"n","x":49,"y":1300},{"s":"n","x":50,"y":1000},{"s":"n","x":51,"y":850},{"s":"n","x":52,"y":720},{"s":"n","x":53,"y":600},{"s":"n","x":54,"y":480},{"s":"n","x":55,"y":360},{"s":"n","x":56,"y":260},{"s":"n","x":57,"y":180},{"s":"n","x":58,"y":120},{"s":"n","x":59,"y":85},{"s":"n","x":60,"y":65},{"s":"n","x":61,"y":52},{"s":"n","x":62,"y":44},{"s":"n","x":63,"y":38},{"s":"n","x":64,"y":34},{"s":"n","x":65,"y":31},{"s":"n","x":66,"y":28},{"s":"n","x":67,"y":26},{"s":"n","x":68,"y":24},{"s":"n","x":69,"y":22},{"s":"n","x":70,"y":21},{"s":"n","x":71,"y":20},{"s":"n","x":72,"y":19},{"s":"n","x":73,"y":18},{"s":"n","x":74,"y":17},{"s":"n","x":75,"y":16},{"s":"n","x":76,"y":15},{"s":"n","x":77,"y":14},{"s":"n","x":78,"y":13},
{"s":"m","x":33,"y":15},{"s":"m","x":34,"y":90},{"s":"m","x":35,"y":280},{"s":"m","x":36,"y":667},{"s":"m","x":37,"y":1675},{"s":"m","x":38,"y":3275},{"s":"m","x":39,"y":5570},{"s":"m","x":40,"y":8050},{"s":"m","x":41,"y":10290},{"s":"m","x":42,"y":12180},{"s":"m","x":43,"y":11890},{"s":"m","x":44,"y":10400},{"s":"m","x":45,"y":8020},{"s":"m","x":46,"y":5150},{"s":"m","x":47,"y":3360},{"s":"m","x":48,"y":2065},{"s":"m","x":49,"y":1425},{"s":"m","x":50,"y":1120},{"s":"m","x":51,"y":920},{"s":"m","x":52,"y":760},{"s":"m","x":53,"y":620},{"s":"m","x":54,"y":490},{"s":"m","x":55,"y":370},{"s":"m","x":56,"y":270},{"s":"m","x":57,"y":190},{"s":"m","x":58,"y":130},{"s":"m","x":59,"y":90},{"s":"m","x":60,"y":65},{"s":"m","x":61,"y":48},{"s":"m","x":62,"y":36},{"s":"m","x":63,"y":28},{"s":"m","x":64,"y":22},{"s":"m","x":65,"y":17},{"s":"m","x":66,"y":14},{"s":"m","x":67,"y":11},{"s":"m","x":68,"y":9},{"s":"m","x":69,"y":7},{"s":"m","x":70,"y":6},{"s":"m","x":71,"y":5},{"s":"m","x":72,"y":4},{"s":"m","x":73,"y":4},{"s":"m","x":74,"y":3},{"s":"m","x":75,"y":3},{"s":"m","x":76,"y":2},
{"s":"yl","x":33,"y":60},{"s":"yl","x":34,"y":250},{"s":"yl","x":35,"y":600},{"s":"yl","x":36,"y":1100},{"s":"yl","x":37,"y":2655},{"s":"yl","x":38,"y":4840},{"s":"yl","x":39,"y":7190},{"s":"yl","x":40,"y":9770},{"s":"yl","x":41,"y":11550},{"s":"yl","x":42,"y":12520},{"s":"yl","x":43,"y":11240},{"s":"yl","x":44,"y":8490},{"s":"yl","x":45,"y":5905},{"s":"yl","x":46,"y":3580},{"s":"yl","x":47,"y":2275},{"s":"yl","x":48,"y":1535},{"s":"yl","x":49,"y":1200},{"s":"yl","x":50,"y":1003},{"s":"yl","x":51,"y":890},{"s":"yl","x":52,"y":720},{"s":"yl","x":53,"y":560},{"s":"yl","x":54,"y":420},{"s":"yl","x":55,"y":300},{"s":"yl","x":56,"y":200},{"s":"yl","x":57,"y":140},{"s":"yl","x":58,"y":95},{"s":"yl","x":59,"y":65},{"s":"yl","x":60,"y":48},{"s":"yl","x":61,"y":36},{"s":"yl","x":62,"y":28},{"s":"yl","x":63,"y":22},{"s":"yl","x":64,"y":17},{"s":"yl","x":65,"y":14},{"s":"yl","x":66,"y":11},{"s":"yl","x":67,"y":9},{"s":"yl","x":68,"y":7},{"s":"yl","x":69,"y":6},{"s":"yl","x":70,"y":5},{"s":"yl","x":71,"y":4},{"s":"yl","x":72,"y":4},{"s":"yl","x":73,"y":3},{"s":"yl","x":74,"y":3},{"s":"yl","x":75,"y":2},{"s":"yl","x":76,"y":2},
{"s":"b","x":33,"y":10},{"s":"b","x":34,"y":30},{"s":"b","x":35,"y":60},{"s":"b","x":36,"y":90},{"s":"b","x":37,"y":275},{"s":"b","x":38,"y":900},{"s":"b","x":39,"y":1730},{"s":"b","x":40,"y":3190},{"s":"b","x":41,"y":5240},{"s":"b","x":42,"y":7840},{"s":"b","x":43,"y":9495},{"s":"b","x":44,"y":11025},{"s":"b","x":45,"y":11570},{"s":"b","x":46,"y":10435},{"s":"b","x":47,"y":8370},{"s":"b","x":48,"y":5805},{"s":"b","x":49,"y":3830},{"s":"b","x":50,"y":2450},{"s":"b","x":51,"y":1715},{"s":"b","x":52,"y":1310},{"s":"b","x":53,"y":1050},{"s":"b","x":54,"y":960},{"s":"b","x":55,"y":800},{"s":"b","x":56,"y":690},{"s":"b","x":57,"y":580},{"s":"b","x":58,"y":440},{"s":"b","x":59,"y":320},{"s":"b","x":60,"y":215},{"s":"b","x":61,"y":140},{"s":"b","x":62,"y":100},{"s":"b","x":63,"y":80},{"s":"b","x":64,"y":65},{"s":"b","x":65,"y":55},{"s":"b","x":66,"y":48},{"s":"b","x":67,"y":42},{"s":"b","x":68,"y":37},{"s":"b","x":69,"y":33},{"s":"b","x":70,"y":30},{"s":"b","x":71,"y":27},{"s":"b","x":72,"y":25},{"s":"b","x":73,"y":23},{"s":"b","x":74,"y":21},{"s":"b","x":75,"y":19},{"s":"b","x":76,"y":17},{"s":"b","x":77,"y":15},{"s":"b","x":78,"y":13},
{"s":"c","x":33,"y":30},{"s":"c","x":34,"y":150},{"s":"c","x":35,"y":420},{"s":"c","x":36,"y":850},{"s":"c","x":37,"y":2000},{"s":"c","x":38,"y":3800},{"s":"c","x":39,"y":6200},{"s":"c","x":40,"y":8900},{"s":"c","x":41,"y":10900},{"s":"c","x":42,"y":12100},{"s":"c","x":43,"y":11500},{"s":"c","x":44,"y":9450},{"s":"c","x":45,"y":7000},{"s":"c","x":46,"y":4500},{"s":"c","x":47,"y":2800},{"s":"c","x":48,"y":1800},{"s":"c","x":49,"y":1300},{"s":"c","x":50,"y":1020},{"s":"c","x":51,"y":840},{"s":"c","x":52,"y":690},{"s":"c","x":53,"y":560},{"s":"c","x":54,"y":440},{"s":"c","x":55,"y":330},{"s":"c","x":56,"y":240},{"s":"c","x":57,"y":170},{"s":"c","x":58,"y":115},{"s":"c","x":59,"y":80},{"s":"c","x":60,"y":58},{"s":"c","x":61,"y":43},{"s":"c","x":62,"y":33},{"s":"c","x":63,"y":26},{"s":"c","x":64,"y":20},{"s":"c","x":65,"y":16},{"s":"c","x":66,"y":13},{"s":"c","x":67,"y":10},{"s":"c","x":68,"y":8},{"s":"c","x":69,"y":7},{"s":"c","x":70,"y":6},{"s":"c","x":71,"y":5},{"s":"c","x":72,"y":4},{"s":"c","x":73,"y":3},{"s":"c","x":74,"y":3},{"s":"c","x":75,"y":2},{"s":"c","x":76,"y":2},
{"s":"p","x":33,"y":25},{"s":"p","x":34,"y":130},{"s":"p","x":35,"y":380},{"s":"p","x":36,"y":780},{"s":"p","x":37,"y":1900},{"s":"p","x":38,"y":3700},{"s":"p","x":39,"y":6000},{"s":"p","x":40,"y":8500},{"s":"p","x":41,"y":9910},{"s":"p","x":42,"y":12000},{"s":"p","x":43,"y":11400},{"s":"p","x":44,"y":9700},{"s":"p","x":45,"y":7500},{"s":"p","x":46,"y":4900},{"s":"p","x":47,"y":3100},{"s":"p","x":48,"y":2000},{"s":"p","x":49,"y":1400},{"s":"p","x":50,"y":1060},{"s":"p","x":51,"y":860},{"s":"p","x":52,"y":710},{"s":"p","x":53,"y":580},{"s":"p","x":54,"y":460},{"s":"p","x":55,"y":350},{"s":"p","x":56,"y":255},{"s":"p","x":57,"y":180},{"s":"p","x":58,"y":125},{"s":"p","x":59,"y":88},{"s":"p","x":60,"y":62},{"s":"p","x":61,"y":46},{"s":"p","x":62,"y":35},{"s":"p","x":63,"y":27},{"s":"p","x":64,"y":21},{"s":"p","x":65,"y":16},{"s":"p","x":66,"y":13},{"s":"p","x":67,"y":10},{"s":"p","x":68,"y":8},{"s":"p","x":69,"y":7},{"s":"p","x":70,"y":6},{"s":"p","x":71,"y":5},{"s":"p","x":72,"y":4},{"s":"p","x":73,"y":4},{"s":"p","x":74,"y":3},{"s":"p","x":75,"y":3},{"s":"p","x":76,"y":2},{"s":"p","x":77,"y":2},
{"s":"t","x":33,"y":20},{"s":"t","x":34,"y":110},{"s":"t","x":35,"y":350},{"s":"t","x":36,"y":700},{"s":"t","x":37,"y":1700},{"s":"t","x":38,"y":3500},{"s":"t","x":39,"y":5700},{"s":"t","x":40,"y":8000},{"s":"t","x":41,"y":8980},{"s":"t","x":42,"y":11050},{"s":"t","x":43,"y":11200},{"s":"t","x":44,"y":10660},{"s":"t","x":45,"y":9280},{"s":"t","x":46,"y":6800},{"s":"t","x":47,"y":4600},{"s":"t","x":48,"y":2900},{"s":"t","x":49,"y":1900},{"s":"t","x":50,"y":1350},{"s":"t","x":51,"y":1000},{"s":"t","x":52,"y":800},{"s":"t","x":53,"y":640},{"s":"t","x":54,"y":500},{"s":"t","x":55,"y":380},{"s":"t","x":56,"y":280},{"s":"t","x":57,"y":200},{"s":"t","x":58,"y":140},{"s":"t","x":59,"y":100},{"s":"t","x":60,"y":72},{"s":"t","x":61,"y":54},{"s":"t","x":62,"y":42},{"s":"t","x":63,"y":33},{"s":"t","x":64,"y":26},{"s":"t","x":65,"y":21},{"s":"t","x":66,"y":17},{"s":"t","x":67,"y":14},{"s":"t","x":68,"y":11},{"s":"t","x":69,"y":9},{"s":"t","x":70,"y":8},{"s":"t","x":71,"y":7},{"s":"t","x":72,"y":6},{"s":"t","x":73,"y":5},{"s":"t","x":74,"y":4},{"s":"t","x":75,"y":4},{"s":"t","x":76,"y":3},
{"s":"bl","x":33,"y":15},{"s":"bl","x":34,"y":90},{"s":"bl","x":35,"y":300},{"s":"bl","x":36,"y":600},{"s":"bl","x":37,"y":1560},{"s":"bl","x":38,"y":2945},{"s":"bl","x":39,"y":4560},{"s":"bl","x":40,"y":5915},{"s":"bl","x":41,"y":7400},{"s":"bl","x":42,"y":8870},{"s":"bl","x":43,"y":9780},{"s":"bl","x":44,"y":10330},{"s":"bl","x":45,"y":10370},{"s":"bl","x":46,"y":8135},{"s":"bl","x":47,"y":5805},{"s":"bl","x":48,"y":3870},{"s":"bl","x":49,"y":2520},{"s":"bl","x":50,"y":1700},{"s":"bl","x":51,"y":1250},{"s":"bl","x":52,"y":1000},{"s":"bl","x":53,"y":850},{"s":"bl","x":54,"y":700},{"s":"bl","x":55,"y":520},{"s":"bl","x":56,"y":370},{"s":"bl","x":57,"y":260},{"s":"bl","x":58,"y":180},{"s":"bl","x":59,"y":125},{"s":"bl","x":60,"y":90},{"s":"bl","x":61,"y":68},{"s":"bl","x":62,"y":52},{"s":"bl","x":63,"y":42},{"s":"bl","x":64,"y":35},{"s":"bl","x":65,"y":30},{"s":"bl","x":66,"y":26},{"s":"bl","x":67,"y":23},{"s":"bl","x":68,"y":21},{"s":"bl","x":69,"y":19},{"s":"bl","x":70,"y":17},{"s":"bl","x":71,"y":16},{"s":"bl","x":72,"y":15},{"s":"bl","x":73,"y":14},{"s":"bl","x":74,"y":13},{"s":"bl","x":75,"y":12},{"s":"bl","x":76,"y":11},{"s":"bl","x":77,"y":10},{"s":"bl","x":78,"y":9},
{"s":"t","x":81,"y":0},{"s":"c","x":82,"y":0},{"s":"m","x":84,"y":0},{"s":"p","x":84,"y":0},{"s":"bl","x":88,"y":0},{"s":"t","x":90,"y":0},{"s":"b","x":92,"y":0},{"s":"t","x":97,"y":0},{"s":"bl","x":101,"y":0},{"s":"n","x":113,"y":0},{"s":"m","x":115,"y":0},{"s":"bl","x":116,"y":0},{"s":"yl","x":117,"y":0},{"s":"c","x":121,"y":0},{"s":"bl","x":124,"y":0},{"s":"p","x":129,"y":0},{"s":"bl","x":138,"y":0},{"s":"b","x":152,"y":0}
],
"boxes":[{"x":3.26,"xe":34.24,"y":8000,"ye":10134},{"x":59.77,"xe":116.5,"y":10000,"ye":11608}],
"noteA":[{"x":4.36,"y":9597,"t":"Ped width"},{"x":4.36,"y":8908,"t":"=2.6 counts"},{"x":4.36,"y":8235,"t":"=1.04fC"}],
"noteB":[{"x":60.9,"y":11059,"t":"8 ch with LED pulser"},{"x":60.9,"y":10437,"t":"8 ch without pulser"}],
"noteC":[{"x":96.9,"y":8235,"t":"–Modified existing board"},{"x":96.9,"y":6924,"t":"with TriP/MCM"},{"x":96.9,"y":5395,"t":"–Real VLPCs, real photons!"}],
"noteD":[{"x":163.5,"y":946,"t":"data taken Jun 10, 2003"}]
},
"encoding":{
"x":{"field":"x","type":"quantitative","scale":{"domain":[0,200],"nice":false,"zero":false},
"axis":{"title":"ADC counts (4mv/count)","values":[0,20,40,60,80,100,120,140,160,180,200],"format":"d","grid":true,"gridColor":"#999999","gridWidth":1.5,"domainColor":"#000000","domainWidth":2,"tickColor":"#000000","tickSize":12,"tickWidth":1.5,"labelFont":"DejaVu Sans","labelFontSize":31,"labelColor":"#000000","labelPadding":28,"labelFlush":false,"labelOverlap":false,"titleFont":"DejaVu Sans","titleFontSize":36,"titleFontWeight":"bold","titleColor":"#000000","titleX":766,"titleY":113,"titleBaseline":"alphabetic","titleAlign":"center"}},
"y":{"field":"y","type":"quantitative","scale":{"domain":[0,14000],"nice":false,"zero":false},
"axis":{"title":"num entries","values":[0,2000,4000,6000,8000,10000,12000,14000],"format":"d","grid":true,"gridColor":"#333333","gridDash":[2,2],"gridWidth":1.2,"domainColor":"#000000","domainWidth":2,"tickColor":"#000000","tickSize":12,"tickWidth":1.5,"labelFont":"DejaVu Sans","labelFontSize":31,"labelColor":"#000000","labelPadding":21,"labelFlush":false,"labelOverlap":false,"titleFont":"DejaVu Sans","titleFontSize":28,"titleFontWeight":"bold","titleColor":"#000000","titleX":-158,"titleY":421,"titleAngle":-90,"titleBaseline":"alphabetic","titleAlign":"center"}},
"color":{"field":"s","type":"nominal","legend":null,"scale":{"domain":["n","m","yl","b","c","p","t","bl","L1","L2","L3","L4","L5","L6"],"range":["#000080","#FF00FF","#FFFF00","#800000","#00FFFF","#800080","#008080","#0000FF","#FFFF99","#CCFFCC","#99CCFF","#FF99CC","#FFCC99","#CC99FF"]}},
"shape":{"field":"s","type":"nominal","legend":null,"scale":{"domain":["n","m","yl","b","c","p","t","bl","L1","L2","L3","L4","L5","L6"],"range":["diamond","square","triangle-up","circle","M-1,-1L1,1M-1,1L1,-1","M-0.8,-0.8L0.8,0.8M-0.8,0.8L0.8,-0.8M0,-1L0,1","M-1,0L1,0M0,-1L0,1","M-1,0L1,0","triangle-up","square","M-1,-1L1,1M-1,1L1,-1","M-0.8,-0.8L0.8,0.8M-0.8,0.8L0.8,-0.8M0,-1L0,1","M-1,0L1,0M0,-1L0,1","circle"]}}
},
"layer":[
{"data":{"name":"led"},"transform":[{"filter":{"field":"s","oneOf":["L1","L2","L6"]}}],
"mark":{"type":"point","filled":true,"opacity":1,"size":200}},
{"data":{"name":"led"},"transform":[{"filter":{"field":"s","oneOf":["L3","L4","L5"]}}],
"mark":{"type":"point","filled":false,"opacity":1,"size":190,"strokeWidth":2}},
{"data":{"name":"ped"},"transform":[{"filter":"datum.x <= 80"}],
"mark":{"type":"line","strokeWidth":1.2},
"encoding":{"shape":null}},
{"data":{"name":"ped"},"transform":[{"filter":{"field":"s","oneOf":["n","m","yl","b"]}}],
"mark":{"type":"point","filled":true,"opacity":1,"size":135}},
{"data":{"name":"ped"},"transform":[{"filter":{"field":"s","oneOf":["c","p","t","bl"]}}],
"mark":{"type":"point","filled":false,"opacity":1,"size":130,"strokeWidth":2.2}},
{"data":{"name":"boxes"},
"mark":{"type":"rect","stroke":"#000000","strokeWidth":1.5},
"encoding":{"x2":{"field":"xe"},"y2":{"field":"ye"},"color":{"value":"#FFFFFF"},"shape":null}},
{"data":{"name":"noteA"},
"mark":{"type":"text","align":"left","baseline":"alphabetic","font":"DejaVu Sans","fontWeight":"bold","fontSize":31},
"encoding":{"text":{"field":"t"},"color":{"value":"#000000"},"shape":null}},
{"data":{"name":"noteB"},
"mark":{"type":"text","align":"left","baseline":"alphabetic","font":"DejaVu Sans","fontWeight":"bold","fontSize":32},
"encoding":{"text":{"field":"t"},"color":{"value":"#000000"},"shape":null}},
{"data":{"name":"noteC"},
"mark":{"type":"text","align":"left","baseline":"alphabetic","font":"Lato","fontWeight":"bold","fontSize":68},
"encoding":{"text":{"field":"t"},"color":{"value":"#660066"},"shape":null}},
{"data":{"name":"noteD"},
"mark":{"type":"text","align":"left","baseline":"alphabetic","font":"Liberation Sans","fontSize":24},
"encoding":{"text":{"field":"t"},"color":{"value":"#222222"},"shape":null}}
]
}
